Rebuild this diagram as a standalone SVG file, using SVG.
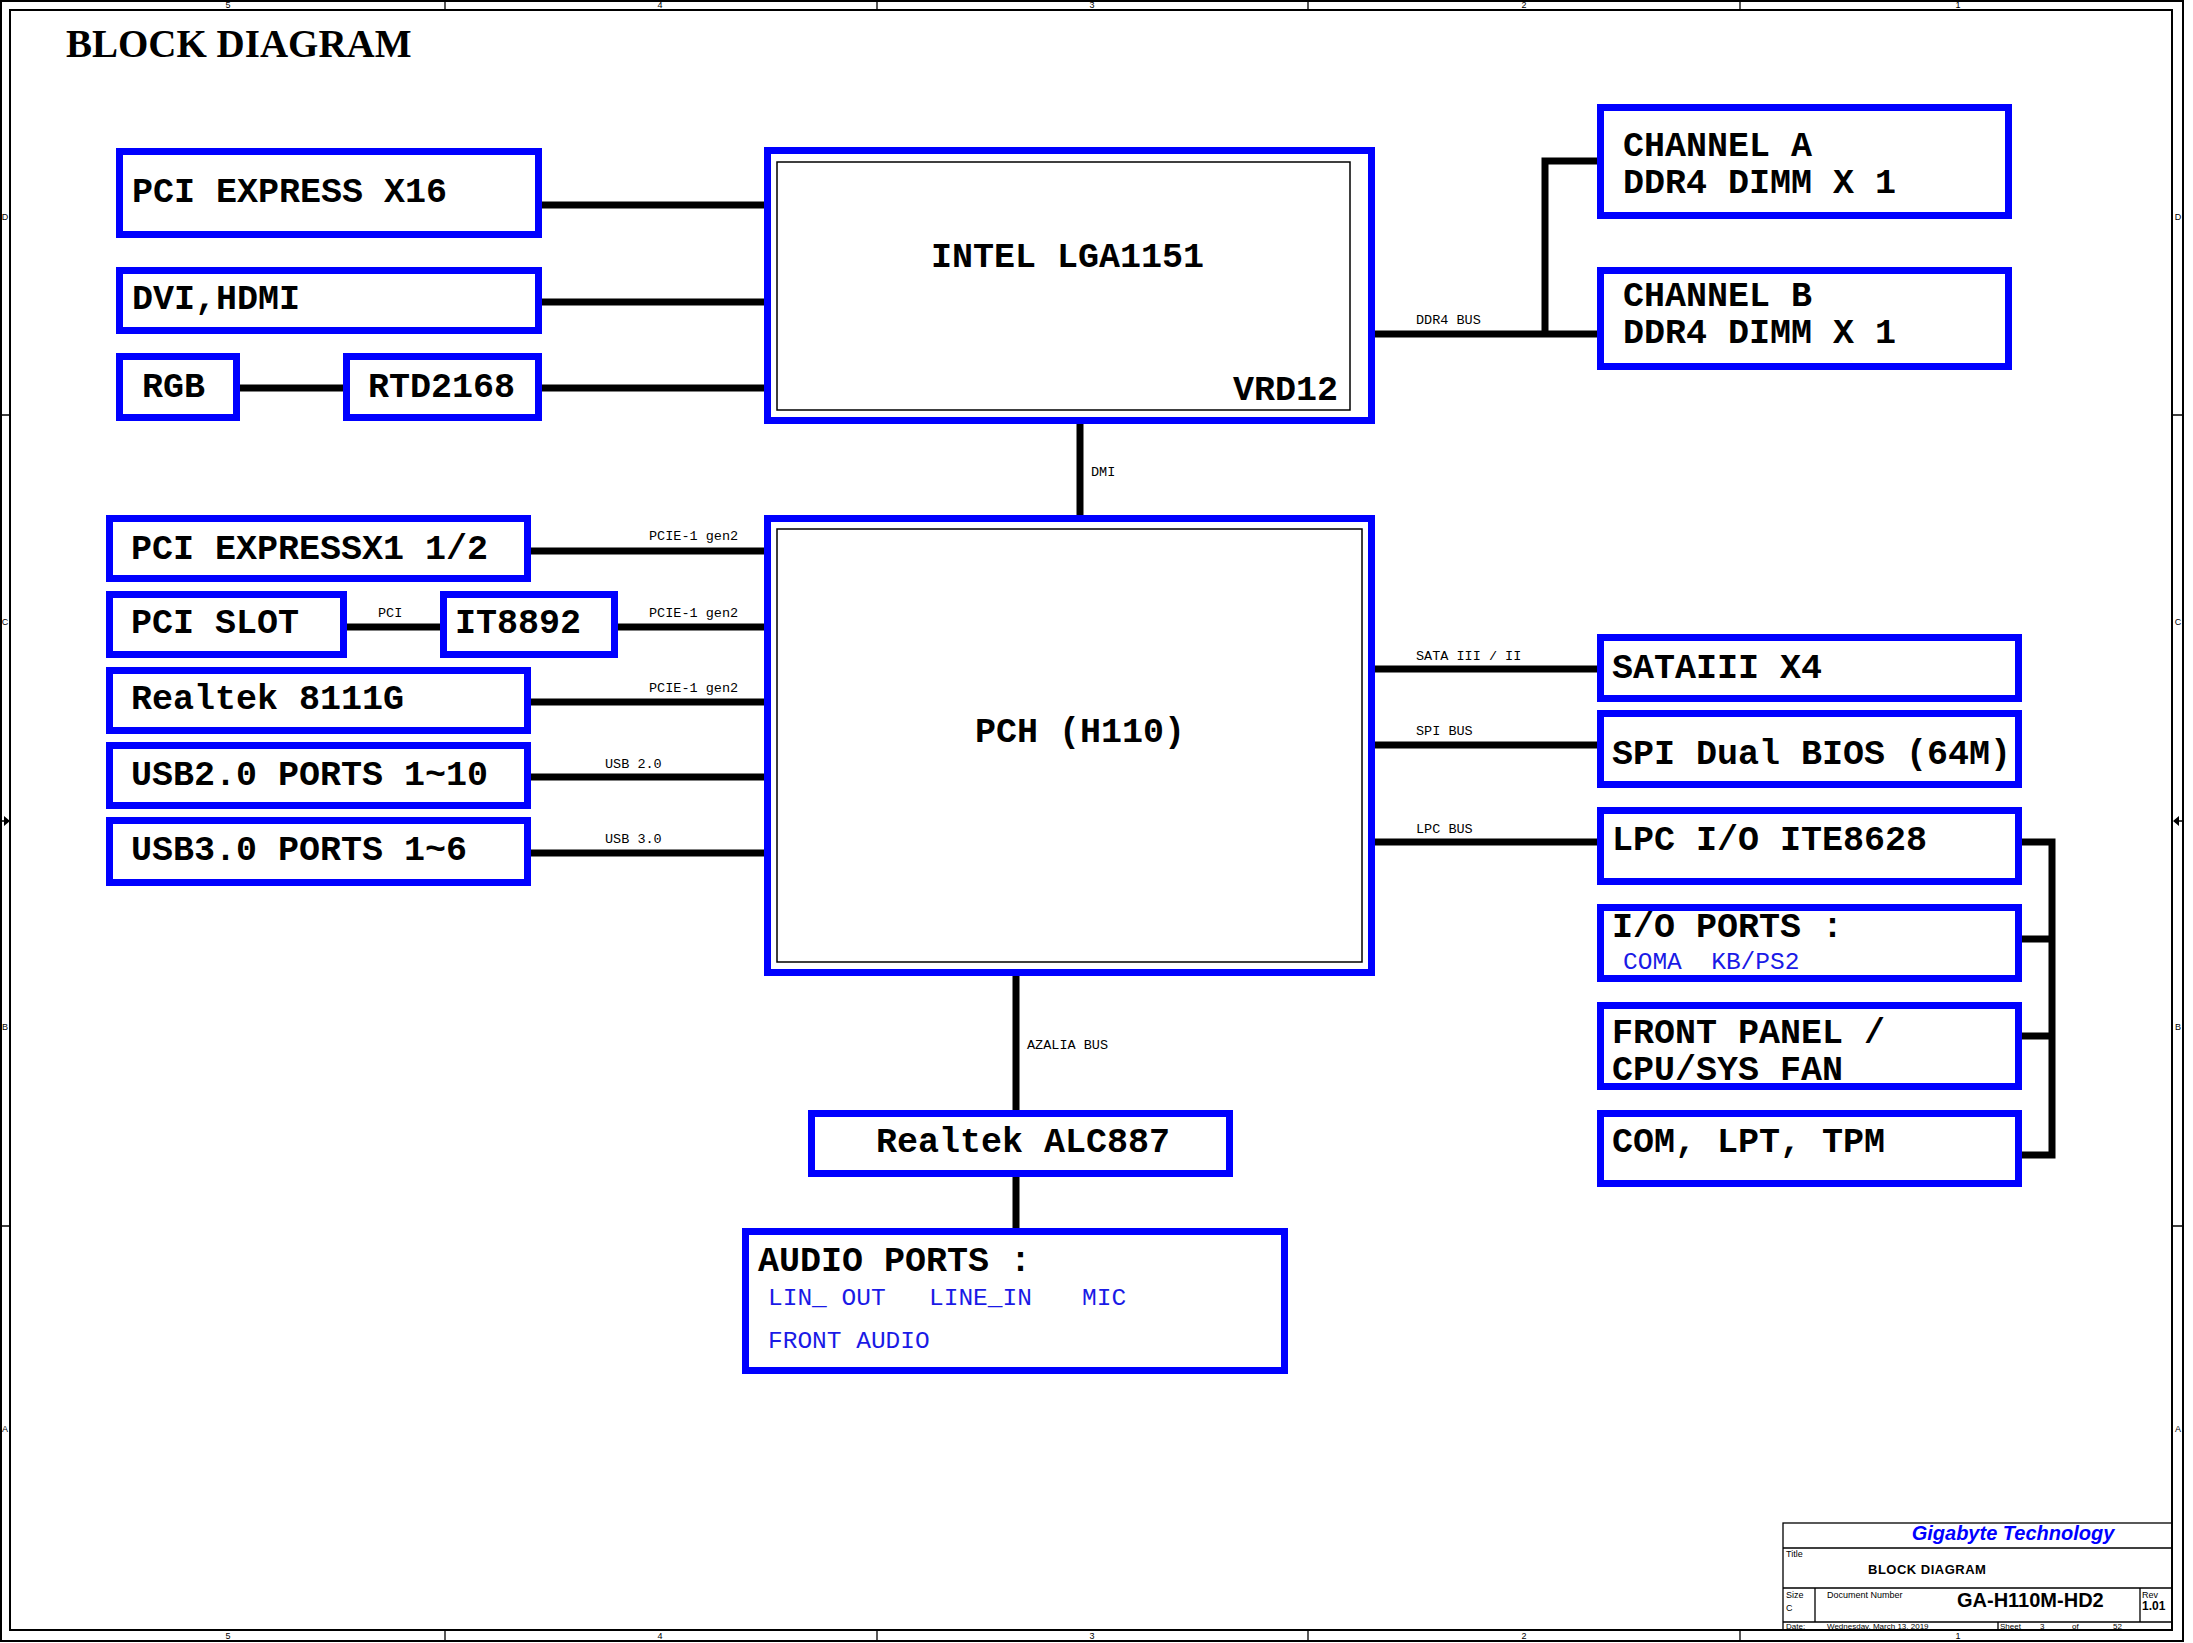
<svg xmlns="http://www.w3.org/2000/svg" width="2193" height="1643" viewBox="0 0 2193 1643">
<style>
.box{fill:#fff;stroke:#0000ff;stroke-width:7}
.inner{fill:none;stroke:#000;stroke-width:1.5}
.lbl{font-family:"Liberation Mono","Courier New",monospace;font-weight:bold;font-size:35px;fill:#000}
.sub{font-family:"Liberation Mono","Courier New",monospace;font-size:24.5px;fill:#1a1ae6}
.bus{font-family:"Liberation Mono","Courier New",monospace;font-size:13.5px;fill:#000}
.wire{stroke:#000;stroke-width:7;fill:none}
.frame{fill:none;stroke:#000;stroke-width:2}
.thin{stroke:#000;stroke-width:1.3;fill:none}
.tb{font-family:"Liberation Sans",Arial,sans-serif;fill:#000}
.mk{font-family:"Liberation Sans",Arial,sans-serif;font-size:9px;fill:#000;text-anchor:middle}
</style>
<rect width="2193" height="1643" fill="#fff"/>
<g id="frame">
<rect class="frame" x="1" y="1" width="2182" height="1640"/>
<rect class="frame" x="10" y="10" width="2162" height="1620"/>
<path class="thin" d="M445,1V10M877,1V10M1308,1V10M1740,1V10M445,1630V1641M877,1630V1641M1308,1630V1641M1740,1630V1641M1,415H10M1,1226H10M2172,415H2183M2172,1226H2183M1,821H6M2177,821H2183"/>
<path d="M4,816L10,821L4,826Z M2179,816L2173,821L2179,826Z" fill="#000"/>
<text class="mk" x="228" y="8">5</text><text class="mk" x="660" y="8">4</text><text class="mk" x="1092" y="8">3</text><text class="mk" x="1524" y="8">2</text><text class="mk" x="1958" y="8">1</text>
<text class="mk" x="228" y="1639">5</text><text class="mk" x="660" y="1639">4</text><text class="mk" x="1092" y="1639">3</text><text class="mk" x="1524" y="1639">2</text><text class="mk" x="1958" y="1639">1</text>
<text class="mk" x="5" y="220">D</text><text class="mk" x="5" y="625">C</text><text class="mk" x="5" y="1030">B</text><text class="mk" x="5" y="1432">A</text>
<text class="mk" x="2178" y="220">D</text><text class="mk" x="2178" y="625">C</text><text class="mk" x="2178" y="1030">B</text><text class="mk" x="2178" y="1432">A</text>
</g>
<text x="66" y="57" font-family="'Liberation Serif','Times New Roman',serif" font-weight="bold" font-size="39" fill="#000">BLOCK DIAGRAM</text>
<g id="connectors">
<path class="wire" d="M542,205H764M542,302H764M240,388H343M542,388H764"/>
<path class="wire" d="M1375,334H1597M1545,334V161H1597"/>
<path class="wire" d="M1080,424V515"/>
<path class="wire" d="M531,551H764M347,627H440M618,627H764M531,702H764M531,777H764M531,853H764"/>
<path class="wire" d="M1375,669H1597M1375,745H1597M1375,842H1597"/>
<path class="wire" d="M2022,842H2052V1155H2022M2022,939H2052M2022,1036H2052"/>
<path class="wire" d="M1016,976V1110M1016,1177V1228"/>
<text class="bus" x="1416" y="324">DDR4 BUS</text>
<text class="bus" x="1091" y="476">DMI</text>
<text class="bus" x="649" y="540">PCIE-1 gen2</text>
<text class="bus" x="378" y="617">PCI</text>
<text class="bus" x="649" y="617">PCIE-1 gen2</text>
<text class="bus" x="649" y="692">PCIE-1 gen2</text>
<text class="bus" x="605" y="768">USB 2.0</text>
<text class="bus" x="605" y="843">USB 3.0</text>
<text class="bus" x="1416" y="660">SATA III / II</text>
<text class="bus" x="1416" y="735">SPI BUS</text>
<text class="bus" x="1416" y="833">LPC BUS</text>
<text class="bus" x="1027" y="1049">AZALIA BUS</text>
</g>
<g id="pcie16"><rect class="box" x="119.5" y="151.5" width="419" height="83"/><text class="lbl" x="132" y="202">PCI EXPRESS X16</text></g>
<g id="dvi"><rect class="box" x="119.5" y="270.5" width="419" height="60"/><text class="lbl" x="132" y="309">DVI,HDMI</text></g>
<g id="rgb"><rect class="box" x="119.5" y="356.5" width="117" height="61"/><text class="lbl" x="142" y="397">RGB</text></g>
<g id="rtd2168"><rect class="box" x="346.5" y="356.5" width="192" height="61"/><text class="lbl" x="368" y="397">RTD2168</text></g>
<g id="cpu"><rect class="box" x="767.5" y="150.5" width="604" height="270"/><rect class="inner" x="777" y="162" width="573" height="248"/><text class="lbl" x="931" y="267">INTEL LGA1151</text><text class="lbl" x="1233" y="400" font-size="27.5">VRD12</text></g>
<g id="pciex1"><rect class="box" x="109.5" y="518.5" width="418" height="60"/><text class="lbl" x="131" y="559">PCI EXPRESSX1 1/2</text></g>
<g id="pcislot"><rect class="box" x="109.5" y="594.5" width="234" height="60"/><text class="lbl" x="131" y="633">PCI SLOT</text></g>
<g id="it8892"><rect class="box" x="443.5" y="594.5" width="171" height="60"/><text class="lbl" x="455" y="633">IT8892</text></g>
<g id="rtl8111g"><rect class="box" x="109.5" y="670.5" width="418" height="60"/><text class="lbl" x="131" y="709">Realtek 8111G</text></g>
<g id="usb2"><rect class="box" x="109.5" y="745.5" width="418" height="60"/><text class="lbl" x="131" y="785">USB2.0 PORTS 1~10</text></g>
<g id="usb3"><rect class="box" x="109.5" y="820.5" width="418" height="62"/><text class="lbl" x="131" y="860">USB3.0 PORTS 1~6</text></g>
<g id="pch"><rect class="box" x="767.5" y="518.5" width="604" height="454"/><rect class="inner" x="777" y="529" width="585" height="433"/><text class="lbl" x="975" y="742">PCH (H110)</text></g>
<g id="alc887"><rect class="box" x="811.5" y="1113.5" width="418" height="60"/><text class="lbl" x="876" y="1152">Realtek ALC887</text></g>
<g id="audio"><rect class="box" x="745.5" y="1231.5" width="539" height="139"/><text class="lbl" x="758" y="1271">AUDIO PORTS :</text><text class="sub" x="768" y="1305">LIN_ OUT</text><text class="sub" x="929" y="1305">LINE_IN</text><text class="sub" x="1082" y="1305">MIC</text><text class="sub" x="768" y="1348">FRONT AUDIO</text></g>
<g id="chA"><rect class="box" x="1600.5" y="107.5" width="408" height="108"/><text class="lbl" x="1623" y="156">CHANNEL A</text><text class="lbl" x="1623" y="193">DDR4 DIMM X 1</text></g>
<g id="chB"><rect class="box" x="1600.5" y="270.5" width="408" height="96"/><text class="lbl" x="1623" y="306">CHANNEL B</text><text class="lbl" x="1623" y="343">DDR4 DIMM X 1</text></g>
<g id="sata"><rect class="box" x="1600.5" y="637.5" width="418" height="61"/><text class="lbl" x="1612" y="678">SATAIII X4</text></g>
<g id="spi"><rect class="box" x="1600.5" y="713.5" width="418" height="71"/><text class="lbl" x="1612" y="764">SPI Dual BIOS (64M)</text></g>
<g id="lpc"><rect class="box" x="1600.5" y="810.5" width="418" height="71"/><text class="lbl" x="1612" y="850">LPC I/O ITE8628</text></g>
<g id="ioports"><rect class="box" x="1600.5" y="907.5" width="418" height="71"/><text class="lbl" x="1612" y="937">I/O PORTS :</text><text class="sub" x="1623" y="969" xml:space="preserve">COMA  KB/PS2</text></g>
<g id="frontpanel"><rect class="box" x="1600.5" y="1005.5" width="418" height="81"/><text class="lbl" x="1612" y="1043">FRONT PANEL /</text><text class="lbl" x="1612" y="1080">CPU/SYS FAN</text></g>
<g id="comlpt"><rect class="box" x="1600.5" y="1113.5" width="418" height="70"/><text class="lbl" x="1612" y="1152">COM, LPT, TPM</text></g>
<g id="titleblock">
<rect class="thin" x="1783" y="1523" width="389" height="107"/>
<path class="thin" d="M1783,1548H2172M1783,1588H2172M1783,1622H2172M1815,1588V1622M2140,1588V1622M1998,1622V1630"/>
<text class="tb" x="2013" y="1540" font-size="20" font-weight="bold" font-style="italic" text-anchor="middle" style="fill:#0000ff">Gigabyte Technology</text>
<text class="tb" x="1786" y="1557" font-size="9">Title</text>
<text class="tb" x="1868" y="1574" font-size="13" font-weight="bold" letter-spacing="0.5">BLOCK DIAGRAM</text>
<text class="tb" x="1786" y="1598" font-size="9">Size</text>
<text class="tb" x="1786" y="1611" font-size="9">C</text>
<text class="tb" x="1827" y="1598" font-size="9">Document Number</text>
<text class="tb" x="1957" y="1607" font-size="20" font-weight="bold">GA-H110M-HD2</text>
<text class="tb" x="2142" y="1598" font-size="9">Rev</text>
<text class="tb" x="2142" y="1610" font-size="12" font-weight="bold">1.01</text>
<text class="tb" x="1786" y="1629" font-size="8">Date:</text>
<text class="tb" x="1827" y="1629" font-size="8">Wednesday, March 13, 2019</text>
<text class="tb" x="2000" y="1629" font-size="8">Sheet</text>
<text class="tb" x="2040" y="1629" font-size="8">3</text>
<text class="tb" x="2072" y="1629" font-size="8">of</text>
<text class="tb" x="2113" y="1629" font-size="8">52</text>
</g>
</svg>
